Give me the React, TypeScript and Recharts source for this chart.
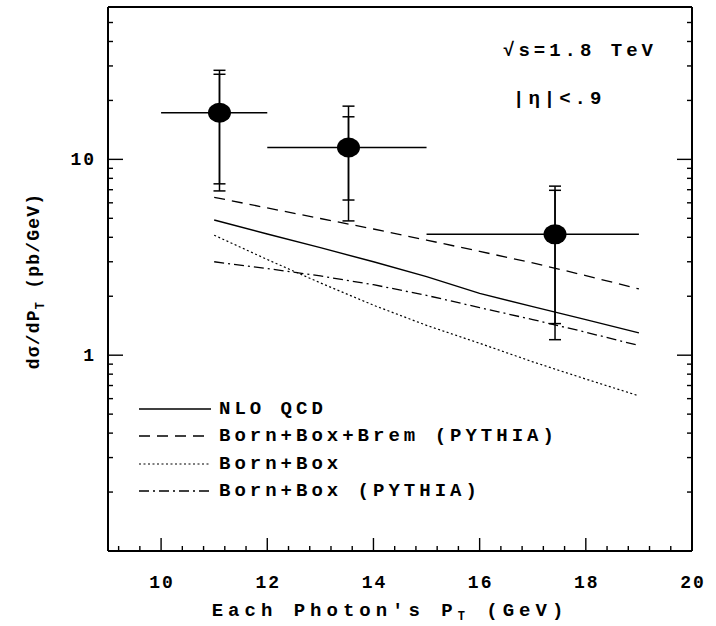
import { ComposedChart, Line, Scatter, ErrorBar, XAxis, YAxis } from 'recharts';

const W = 716;
const H = 626;
const FONT = "'Liberation Mono', 'DejaVu Sans Mono', 'Courier New', monospace";

// theory curves, sampled at each GeV
const gridPt = [11, 12, 13, 14, 15, 16, 17, 18, 19];
const nloQcd = [4.9, 4.16, 3.54, 3.0, 2.52, 2.07, 1.77, 1.52, 1.3];
const bornBoxBrem = [6.4, 5.65, 4.99, 4.41, 3.87, 3.39, 2.96, 2.55, 2.18];
const bornBox = [4.1, 3.08, 2.34, 1.8, 1.42, 1.15, 0.925, 0.755, 0.62];
const bornBoxPythia = [3.0, 2.77, 2.54, 2.29, 2.02, 1.75, 1.52, 1.31, 1.12];

// measured points
const dataPt = [11.1, 13.53, 17.42];
const dataSigma = [17.3, 11.5, 4.14];
const binLow = [10, 12, 15];
const binHigh = [12, 15, 19];
const statLow = [7.5, 6.2, 1.45];
const statHigh = [27.2, 16.5, 6.95];
const totLow = [6.9, 4.85, 1.2];
const totHigh = [28.5, 18.7, 7.3];

const xTicks = [9.2, 9.6, 10, 10.4, 10.8, 11.2, 11.6, 12, 12.4, 12.8, 13.2, 13.6, 14, 14.4, 14.8, 15.2, 15.6, 16, 16.4, 16.8, 17.2, 17.6, 18, 18.4, 18.8, 19.2, 19.6, 20];
const xMajor = [10, 12, 14, 16, 18, 20];
const yTicks = [0.2, 0.3, 0.4, 0.5, 0.6, 0.7, 0.8, 0.9, 1, 2, 3, 4, 5, 6, 7, 8, 9, 10, 20, 30, 40, 50];
const yMajor = [1, 10];

const series = [
  { key: 'nlo', name: 'NLO QCD', values: nloQcd, dash: undefined, width: 1.4 },
  { key: 'brem', name: 'Born+Box+Brem (PYTHIA)', values: bornBoxBrem, dash: '11 7', width: 1.3 },
  { key: 'bb', name: 'Born+Box', values: bornBox, dash: '2 2.5', width: 1.2 },
  { key: 'bbp', name: 'Born+Box (PYTHIA)', values: bornBoxPythia, dash: '10 4 2 4', width: 1.3 },
];

const lineData = gridPt.map((x, i) => {
  const row: Record<string, number> = { x };
  series.forEach((s) => { row[s.key] = s.values[i]; });
  return row;
});

const points = dataPt.map((x, i) => ({
  x,
  y: dataSigma[i],
  xErr: [x - binLow[i], binHigh[i] - x],
  stat: [dataSigma[i] - statLow[i], statHigh[i] - dataSigma[i]],
  tot: [dataSigma[i] - totLow[i], totHigh[i] - dataSigma[i]],
}));

const textStyle = { fontFamily: FONT, fontWeight: 700, fill: '#000' };

const BottomTick = ({ x, y, payload }: any) => {
  const major = xMajor.includes(payload.value);
  return (
    <g>
      <line x1={x} x2={x} y1={y} y2={y - (major ? 13 : 5)} stroke="#000" strokeWidth={1.4} />
      {major && (
        <text x={x + 1} y={y + 37} textAnchor="middle" fontSize={18} letterSpacing={2} style={textStyle}>{payload.value}</text>
      )}
    </g>
  );
};

const TopTick = ({ x, y, payload }: any) => {
  const major = xMajor.includes(payload.value);
  return <line x1={x} x2={x} y1={y} y2={y + (major ? 13 : 5)} stroke="#000" strokeWidth={1.4} />;
};

const LeftTick = ({ x, y, payload }: any) => {
  const major = yMajor.includes(payload.value);
  return (
    <g>
      <line x1={x} x2={x + (major ? 15 : 5)} y1={y} y2={y} stroke="#000" strokeWidth={1.4} />
      {major && (
        <text x={x - 12} y={y + 6} textAnchor="end" fontSize={18} letterSpacing={2} style={textStyle}>{payload.value}</text>
      )}
    </g>
  );
};

const RightTick = ({ x, y, payload }: any) => {
  const major = yMajor.includes(payload.value);
  return <line x1={x} x2={x - (major ? 15 : 5)} y1={y} y2={y} stroke="#000" strokeWidth={1.4} />;
};

const XTitle = () => (
  <text x={390} y={616} textAnchor="middle" fontSize={19} letterSpacing={5} style={textStyle}>
    Each Photon's P<tspan fontSize={12} dy={4}>T</tspan><tspan dy={-4}> (GeV)</tspan>
  </text>
);

const YTitle = () => (
  <text x={0} y={0} transform="translate(39, 281) rotate(-90)" textAnchor="middle" fontSize={18} letterSpacing={1.2} style={textStyle}>
    dσ/dP<tspan fontSize={12} dy={5}>T</tspan><tspan dy={-5}> (pb/GeV)</tspan>
  </text>
);

const Dot = ({ cx, cy }: any) => <ellipse cx={cx} cy={cy} rx={11.5} ry={10} fill="#000" />;

export default function App() {
  return (
    <div style={{ position: 'absolute', left: 0, top: 0, width: W, height: H, background: '#fff' }}>
      <ComposedChart width={W} height={H} data={lineData} margin={{ top: 6, right: 23, bottom: 0, left: 0 }}>
        <XAxis dataKey="x" type="number" domain={[9, 20]} ticks={xTicks} interval={0} height={75}
          axisLine={{ stroke: '#000', strokeWidth: 2 }} tickLine={false} tickSize={0} tickMargin={0}
          tick={<BottomTick />} label={XTitle} />
        <XAxis xAxisId="top" orientation="top" type="number" domain={[9, 20]} ticks={xTicks} interval={0} height={1}
          axisLine={{ stroke: '#000', strokeWidth: 2 }} tickLine={false} tickSize={0} tickMargin={0} tick={<TopTick />} />
        <YAxis type="number" scale="log" domain={[0.1, 60]} ticks={yTicks} interval={0} width={108} allowDataOverflow
          axisLine={{ stroke: '#000', strokeWidth: 2 }} tickLine={false} tickSize={0} tickMargin={0}
          tick={<LeftTick />} label={YTitle} />
        <YAxis yAxisId="right" orientation="right" type="number" scale="log" domain={[0.1, 60]} ticks={yTicks} interval={0} width={1} allowDataOverflow
          axisLine={{ stroke: '#000', strokeWidth: 2 }} tickLine={false} tickSize={0} tickMargin={0} tick={<RightTick />} />
        {series.map((s) => (
          <Line key={s.key} dataKey={s.key} type="linear" stroke="#000" strokeWidth={s.width} strokeDasharray={s.dash}
            dot={false} activeDot={false} isAnimationActive={false} />
        ))}
        <Scatter data={points} dataKey="y" shape={Dot} isAnimationActive={false}>
          <ErrorBar dataKey="xErr" direction="x" width={0} stroke="#000" strokeWidth={1.5} isAnimationActive={false} />
          <ErrorBar dataKey="tot" direction="y" width={6} stroke="#000" strokeWidth={1.5} isAnimationActive={false} />
          <ErrorBar dataKey="stat" direction="y" width={6} stroke="#000" strokeWidth={1.5} isAnimationActive={false} />
        </Scatter>
      </ComposedChart>

      <div style={{ position: 'absolute', left: 503, top: 40, fontFamily: FONT, fontWeight: 700, fontSize: 19, letterSpacing: 4 }}>√s=1.8 TeV</div>
      <div style={{ position: 'absolute', left: 513, top: 88, fontFamily: FONT, fontWeight: 700, fontSize: 19, letterSpacing: 4 }}>|η|&lt;.9</div>

      <div style={{ position: 'absolute', left: 139, top: 395, fontFamily: FONT, fontWeight: 700, fontSize: 19, letterSpacing: 4 }}>
        {series.map((s) => (
          <div key={s.key} style={{ display: 'flex', alignItems: 'center', height: 27.5 }}>
            <svg width={72} height={10} style={{ marginRight: 8 }}>
              <line x1={0} x2={72} y1={5} y2={5} stroke="#000" strokeWidth={s.width} strokeDasharray={s.dash} />
            </svg>
            <span>{s.name}</span>
          </div>
        ))}
      </div>
    </div>
  );
}
